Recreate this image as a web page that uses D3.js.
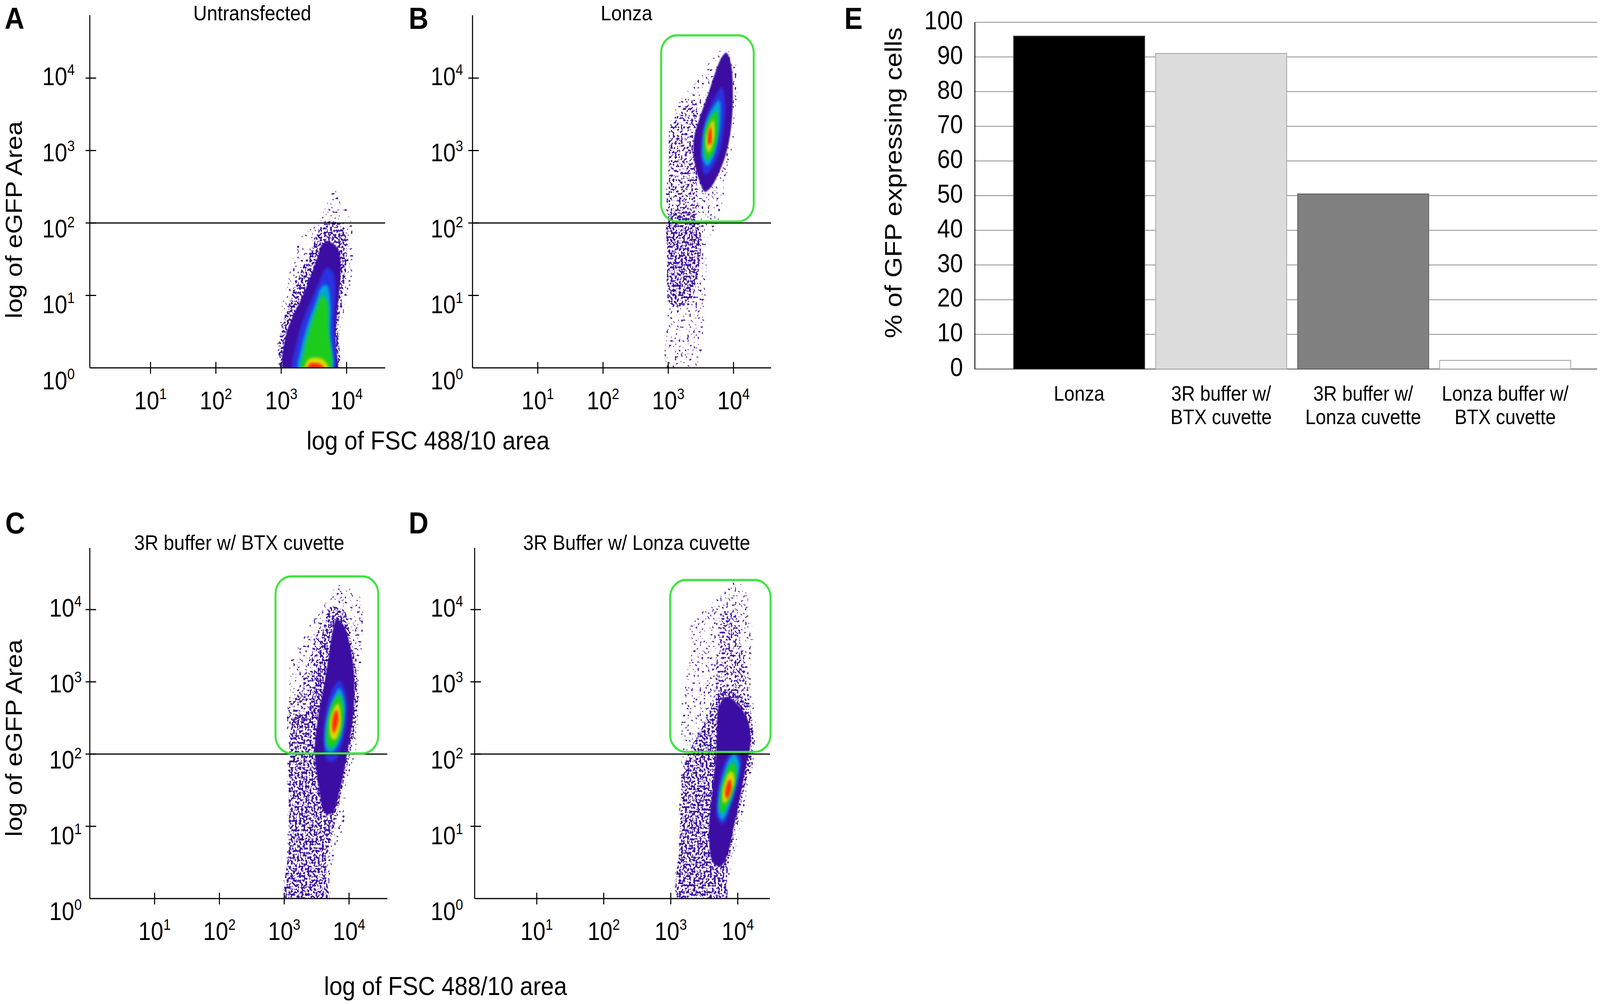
<!DOCTYPE html>
<html><head><meta charset="utf-8">
<script src="https://cdn.jsdelivr.net/npm/d3@7"></script>
<style>
html,body{margin:0;padding:0;width:100%;height:100%;overflow:hidden;background:#fff}
svg{display:block;width:100vw;height:100vh}
text{font-family:Arial,"Liberation Sans",Helvetica,sans-serif;fill:#000}
</style></head>
<body>
<script>
// ---------------- DATA ----------------
const panelLetters = ["A","B","C","D"];
const panelTitles = ["Untransfected","Lonza","3R buffer w/ BTX cuvette","3R Buffer w/ Lonza cuvette"];
const xTickExps = [1,2,3,4];
const yTickExps = [0,1,2,3,4];
const thresholdExp = 2;
const xAxisTitle = "log of FSC 488/10 area";
const yAxisTitle = "log of eGFP Area";
// gates: [log x min, log x max, log y min, log y max]
const gates = [null,[2.89,4.31,2.02,4.59],[2.865,4.45,2.01,4.46],[2.99,4.49,2.03,4.41]];

// density contours: [log10 FSC, log10 eGFP]
const cloudsA = [
 {level:"sparse", pts:[[3.01,-0.05],[3.01,0.82],[3.10,1.18],[3.19,1.54],[3.31,1.81],[3.56,2.02],[3.74,2.35],[3.78,2.47],[3.94,2.31],[4.04,2.11],[4.10,1.81],[4.06,1.14],[3.92,0.62],[3.85,0.19],[3.85,-0.05]]},
 {level:"medium", pts:[[3.02,-0.05],[3.02,0.64],[3.13,0.91],[3.22,1.18],[3.36,1.45],[3.49,1.70],[3.58,1.90],[3.72,2.02],[3.88,1.99],[3.99,1.81],[3.99,1.36],[3.92,0.91],[3.87,0.55],[3.85,-0.05]]},
 {level:"dense", pts:[[3.05,-0.05],[3.06,0.40],[3.17,0.70],[3.32,0.98],[3.45,1.27],[3.56,1.54],[3.62,1.70],[3.72,1.74],[3.86,1.66],[3.91,1.45],[3.89,1.09],[3.85,0.73],[3.83,0.37],[3.83,-0.05]]},
 {level:"blue", pts:[[3.19,-0.05],[3.24,0.37],[3.36,0.73],[3.49,1.00],[3.60,1.23],[3.69,1.38],[3.78,1.34],[3.83,1.09],[3.81,0.64],[3.79,-0.05]]},
 {level:"cyan", pts:[[3.27,-0.05],[3.31,0.28],[3.42,0.64],[3.53,0.91],[3.62,1.12],[3.70,1.14],[3.75,0.91],[3.75,0.46],[3.77,-0.05]]},
 {level:"green", pts:[[3.31,-0.05],[3.35,0.23],[3.44,0.55],[3.54,0.82],[3.63,1.00],[3.70,0.91],[3.72,0.55],[3.74,-0.05]]},
 {level:"yellow", pts:[[3.36,-0.05],[3.40,0.10],[3.49,0.14],[3.63,0.12],[3.70,0.05],[3.72,-0.05]]},
 {level:"red", pts:[[3.40,-0.05],[3.44,0.06],[3.56,0.06],[3.63,0.03],[3.67,-0.05]]}
];
const cloudsB = [
 {level:"sparse", pts:[[3.82,4.41],[3.96,4.39],[4.05,4.11],[4.05,3.66],[4.00,3.15],[3.92,2.79],[3.82,2.25],[3.74,1.95],[3.62,1.77],[3.58,1.21],[3.56,0.61],[3.49,0.16],[3.35,-0.05],[2.99,-0.05],[2.99,0.76],[2.98,1.65],[2.99,2.25],[3.01,3.00],[3.03,3.39],[3.17,3.66],[3.35,3.90],[3.53,4.08],[3.67,4.29]]},
 {level:"light", pts:[[3.03,3.30],[3.20,3.55],[3.40,3.70],[3.47,3.20],[3.44,2.55],[3.42,2.10],[3.01,2.10],[3.01,2.85]]},
 {level:"medium", pts:[[3.01,2.10],[3.35,2.12],[3.47,2.00],[3.50,1.80],[3.47,1.36],[3.35,0.95],[3.17,0.85],[3.01,0.91],[2.99,1.51]]},
 {level:"dense", pts:[[3.89,4.35],[3.96,4.20],[3.99,3.75],[3.96,3.30],[3.89,2.97],[3.78,2.70],[3.65,2.49],[3.56,2.43],[3.49,2.55],[3.40,2.85],[3.39,3.15],[3.48,3.45],[3.60,3.75],[3.71,4.05],[3.82,4.29]]},
 {level:"blue", pts:[[3.82,3.87],[3.87,3.66],[3.85,3.30],[3.78,2.97],[3.65,2.73],[3.56,2.67],[3.51,2.85],[3.51,3.15],[3.58,3.45],[3.69,3.69]]},
 {level:"cyan", pts:[[3.78,3.69],[3.80,3.45],[3.76,3.15],[3.69,2.91],[3.60,2.79],[3.53,2.88],[3.53,3.15],[3.58,3.39],[3.67,3.57]]},
 {level:"green", pts:[[3.74,3.54],[3.76,3.33],[3.73,3.09],[3.65,2.91],[3.58,2.88],[3.55,3.03],[3.56,3.27],[3.64,3.45]]},
 {level:"yellow", pts:[[3.69,3.42],[3.71,3.24],[3.67,3.06],[3.62,2.97],[3.58,3.06],[3.60,3.27]]},
 {level:"red", pts:[[3.65,3.33],[3.67,3.21],[3.65,3.09],[3.61,3.09],[3.61,3.21],[3.63,3.30]]}
];
const cloudsC = [
 {level:"sparse", pts:[[3.85,4.34],[4.03,4.28],[4.17,4.17],[4.21,3.58],[4.17,3.08],[4.14,2.50],[4.08,1.91],[3.96,1.62],[3.92,1.03],[3.81,0.74],[3.70,0.30],[3.68,-0.05],[3.04,-0.05],[3.05,0.74],[3.05,1.32],[3.05,1.91],[3.04,2.50],[3.07,2.79],[3.11,3.32],[3.27,3.55],[3.38,3.76],[3.59,4.02],[3.74,4.25]]},
 {level:"light", pts:[[3.08,2.70],[3.25,2.95],[3.40,3.35],[3.55,3.75],[3.50,2.60],[3.35,2.40],[3.10,2.40]]},
 {level:"medium", pts:[[3.70,4.02],[3.92,3.99],[4.01,3.67],[4.10,3.23],[4.14,2.79],[4.06,2.20],[3.99,1.91],[3.88,1.47],[3.78,1.03],[3.67,0.59],[3.65,0.30],[3.67,-0.05],[3.05,-0.05],[3.07,0.74],[3.07,1.62],[3.09,2.20],[3.15,2.50],[3.35,2.60],[3.50,3.10],[3.59,3.67]]},
 {level:"dense", pts:[[3.81,3.87],[3.92,3.78],[4.01,3.52],[4.08,3.08],[4.06,2.50],[3.99,2.11],[3.92,1.76],[3.85,1.47],[3.74,1.18],[3.63,1.18],[3.52,1.62],[3.47,2.06],[3.52,2.50],[3.61,2.93],[3.69,3.37],[3.74,3.67]]},
 {level:"blue", pts:[[3.85,3.02],[3.96,2.79],[3.96,2.44],[3.88,2.11],[3.78,1.91],[3.67,1.91],[3.61,2.14],[3.63,2.50],[3.72,2.85]]},
 {level:"cyan", pts:[[3.85,2.91],[3.93,2.73],[3.92,2.44],[3.85,2.17],[3.74,2.03],[3.65,2.06],[3.63,2.32],[3.69,2.61],[3.78,2.82]]},
 {level:"green", pts:[[3.85,2.82],[3.91,2.67],[3.90,2.41],[3.83,2.20],[3.74,2.09],[3.67,2.12],[3.66,2.35],[3.70,2.58],[3.78,2.76]]},
 {level:"yellow", pts:[[3.83,2.70],[3.87,2.55],[3.85,2.32],[3.78,2.20],[3.72,2.23],[3.70,2.41],[3.74,2.58]]},
 {level:"red", pts:[[3.81,2.61],[3.84,2.50],[3.81,2.38],[3.77,2.29],[3.74,2.35],[3.75,2.50],[3.78,2.58]]}
];
const cloudsD = [
 {level:"sparse", pts:[[3.93,4.37],[4.12,4.34],[4.16,3.96],[4.23,3.73],[4.19,3.08],[4.26,2.50],[4.28,2.20],[4.26,1.91],[4.16,1.62],[4.09,1.18],[3.98,0.74],[3.90,0.44],[3.84,0.15],[3.81,-0.05],[3.11,-0.05],[3.11,0.74],[3.13,1.32],[3.15,1.76],[3.16,2.20],[3.16,2.64],[3.20,2.96],[3.29,3.37],[3.30,3.78],[3.50,3.99],[3.77,4.22]]},
 {level:"light", pts:[[3.78,3.96],[3.98,3.96],[4.05,3.52],[4.12,3.08],[4.16,2.67],[3.95,2.75],[3.72,2.67],[3.67,3.08],[3.72,3.52]]},
 {level:"medium", pts:[[3.72,2.85],[3.95,2.85],[4.16,2.67],[4.23,2.32],[4.21,1.91],[4.12,1.62],[4.02,1.18],[3.91,0.74],[3.84,0.30],[3.81,-0.05],[3.13,-0.05],[3.13,0.74],[3.15,1.32],[3.18,1.76],[3.29,2.06],[3.46,2.35],[3.60,2.64]]},
 {level:"dense", pts:[[3.72,2.67],[3.84,2.79],[4.02,2.67],[4.16,2.44],[4.19,2.14],[4.14,1.91],[4.05,1.47],[3.95,1.03],[3.84,0.59],[3.74,0.44],[3.63,0.50],[3.57,0.88],[3.60,1.32],[3.67,1.91],[3.69,2.32]]},
 {level:"blue", pts:[[3.91,2.03],[4.04,1.97],[4.02,1.67],[3.91,1.32],[3.79,1.03],[3.70,1.09],[3.69,1.38],[3.76,1.76]]},
 {level:"cyan", pts:[[3.95,2.00],[4.02,1.88],[3.98,1.62],[3.88,1.29],[3.77,1.09],[3.71,1.18],[3.72,1.44],[3.79,1.73],[3.88,1.94]]},
 {level:"green", pts:[[3.93,1.88],[3.98,1.79],[3.96,1.59],[3.86,1.32],[3.77,1.18],[3.73,1.26],[3.75,1.50],[3.81,1.70],[3.88,1.85]]},
 {level:"yellow", pts:[[3.91,1.76],[3.95,1.65],[3.91,1.50],[3.84,1.35],[3.79,1.32],[3.77,1.44],[3.81,1.62],[3.86,1.73]]},
 {level:"red", pts:[[3.89,1.65],[3.91,1.56],[3.88,1.44],[3.84,1.38],[3.81,1.44],[3.83,1.56],[3.86,1.63]]}
];

// bar chart (panel E)
const barCategories = [["Lonza"],["3R buffer w/","BTX cuvette"],["3R buffer w/","Lonza cuvette"],["Lonza buffer w/","BTX cuvette"]];
const barValues = [96, 91, 50.5, 2.5];
const barTicks = [0,10,20,30,40,50,60,70,80,90,100];
const barAxisTitle = "% of GFP expressing cells";

// ---------------- STYLE / LAYOUT ----------------
const W = 4561, H = 2571;
const levelColor = {sparse:"#4a1a9c", light:"#45169e", medium:"#41139f", dense:"#3a0ea2", blue:"#2a30e2",
  cyan:"#04a8d8", green:"#1ccc1c", yellow:"#e2d800", red:"#ff2a00"};
const levelFilter = {sparse:"url(#speckSparse)", light:"url(#speckLight)", medium:"url(#speckMed)", dense:"url(#soft1)",
  blue:"url(#soft)", cyan:"url(#soft)", green:"url(#soft)", yellow:"url(#soft)", red:"url(#soft)"};

const panelLayout = [
 {ox:256,  xlo:0.071, xhi:4.59,  xDec:186.3,  oy:942,  yhi:4.868, yDec:185.5, gap:43, tx:719,  ty:52,   lx:13,   ly:74},
 {ox:1347, xlo:0,     xhi:4.575, xDec:186,    oy:942,  yhi:4.868, yDec:185.5, gap:27, tx:1786, ty:52,   lx:1165, ly:74},
 {ox:256,  xlo:0,     xhi:4.59,  xDec:184.75, oy:2301, yhi:4.854, yDec:185,   gap:23, tx:682,  ty:1408, lx:15,   ly:1366},
 {ox:1353, xlo:0.073, xhi:4.48,  xDec:191,    oy:2301, yhi:4.854, yDec:185,   gap:33, tx:1815, ty:1408, lx:1165, ly:1366}
];
const panelClouds = [cloudsA, cloudsB, cloudsC, cloudsD];

// the window may be narrower than the figure: the drawing is fitted to the whole viewport
const svg = d3.select("body").append("svg").attr("viewBox",`0 0 ${W} ${H}`).attr("preserveAspectRatio","none");
svg.append("rect").attr("width",W).attr("height",H).attr("fill","#fff");
const defs = svg.append("defs");

function speckle(id, t, freq, seed){
  const f = defs.append("filter").attr("id",id).attr("x","-5%").attr("y","-5%").attr("width","110%").attr("height","110%");
  f.append("feTurbulence").attr("type","fractalNoise").attr("baseFrequency",freq).attr("numOctaves",1).attr("seed",seed).attr("result","noise");
  const ct = f.append("feComponentTransfer").attr("in","noise").attr("result","mask");
  ct.append("feFuncA").attr("type","linear").attr("slope",20).attr("intercept",-20*t);
  f.append("feComposite").attr("in","SourceGraphic").attr("in2","mask").attr("operator","in");
}
speckle("speckSparse", 0.63, 0.17, 4);
speckle("speckLight", 0.56, 0.17, 6);
speckle("speckMed", 0.50, 0.17, 9);
defs.append("filter").attr("id","soft").append("feGaussianBlur").attr("stdDeviation",3.5);
defs.append("filter").attr("id","soft1").append("feGaussianBlur").attr("stdDeviation",2);

const BLACK = "#000";
function supLabel(sel, exp){
  sel.append("tspan").text("10");
  sel.append("tspan").attr("font-size",38).attr("dy",-26).text(exp);
}

panelLayout.forEach((L, i) => {
  const x = d3.scaleLog().domain([10**L.xlo, 10**L.xhi]).range([L.ox, L.ox + (L.xhi-L.xlo)*L.xDec]);
  const y = d3.scaleLog().domain([1, 10**L.yhi]).range([L.oy, L.oy - L.yhi*L.yDec]);
  const xr = x.range()[1], yt = y.range()[1];
  const g = svg.append("g");

  const cid = "clip"+i;
  defs.append("clipPath").attr("id",cid).append("rect")
    .attr("x",L.ox+2).attr("y",yt).attr("width",xr-L.ox-2).attr("height",L.oy-yt-1);
  const cg = g.append("g").attr("clip-path",`url(#${cid})`);
  const line = d3.line().x(d=>x(10**d[0])).y(d=>y(10**d[1])).curve(d3.curveCatmullRomClosed.alpha(0.5));
  panelClouds[i].forEach(c => {
    cg.append("path").attr("d", line(c.pts)).attr("fill", levelColor[c.level]).attr("filter", levelFilter[c.level]);
  });

  // axes
  g.append("line").attr("x1",L.ox).attr("x2",L.ox).attr("y1",yt).attr("y2",L.oy).attr("stroke",BLACK).attr("stroke-width",3);
  g.append("line").attr("x1",L.ox).attr("x2",xr).attr("y1",L.oy).attr("y2",L.oy).attr("stroke",BLACK).attr("stroke-width",3);
  g.append("line").attr("x1",L.ox).attr("x2",xr).attr("y1",y(10**thresholdExp)).attr("y2",y(10**thresholdExp)).attr("stroke",BLACK).attr("stroke-width",3);

  yTickExps.filter(e=>e>0).forEach(e => {
    g.append("line").attr("x1",L.ox-12).attr("x2",L.ox+18).attr("y1",y(10**e)).attr("y2",y(10**e)).attr("stroke",BLACK).attr("stroke-width",3);
  });
  xTickExps.forEach(e => {
    g.append("line").attr("x1",x(10**e)).attr("x2",x(10**e)).attr("y1",L.oy-15).attr("y2",L.oy+15).attr("stroke",BLACK).attr("stroke-width",3);
  });
  yTickExps.forEach(e => {
    const t = g.append("text").attr("x",L.ox-L.gap).attr("y",y(10**e)+18+9.3*(4-e)).attr("text-anchor","end").attr("font-size",64);
    supLabel(t, e);
  });
  xTickExps.forEach(e => {
    const t = g.append("text").attr("x",x(10**e)).attr("y",L.oy+106).attr("text-anchor","middle").attr("font-size",64);
    supLabel(t, e);
  });

  // gate
  const gt = gates[i];
  if (gt) {
    g.append("rect").attr("x",x(10**gt[0])).attr("y",y(10**gt[3]))
      .attr("width",x(10**gt[1])-x(10**gt[0])).attr("height",y(10**gt[2])-y(10**gt[3]))
      .attr("rx",45).attr("ry",45).attr("fill","none").attr("stroke","#3ee43e").attr("stroke-width",5.5);
  }
  g.append("text").attr("x",L.tx).attr("y",L.ty).attr("text-anchor","middle").attr("font-size",54).text(panelTitles[i]);
  g.append("text").attr("x",L.lx).attr("y",L.ly).attr("font-size",78).attr("font-weight","bold").text(panelLetters[i]);
});

// shared axis titles
svg.append("text").attr("transform","translate(62,563) rotate(-90)").attr("text-anchor","middle").attr("font-size",66).text(yAxisTitle);
svg.append("text").attr("transform","translate(62,1890) rotate(-90)").attr("text-anchor","middle").attr("font-size",66).text(yAxisTitle);
svg.append("text").attr("x",1220).attr("y",1151).attr("text-anchor","middle").attr("font-size",67).text(xAxisTitle);
svg.append("text").attr("x",1270).attr("y",2548).attr("text-anchor","middle").attr("font-size",67).text(xAxisTitle);

// ---------------- PANEL E ----------------
const eLeft = 2779, eRight = 4553;
const yE = d3.scaleLinear().domain([0,100]).range([945,57]);
const xE = d3.scaleBand().domain(d3.range(barValues.length)).range([2874,4493]).paddingInner(0.077).paddingOuter(0.038);
const gE = svg.append("g");
barTicks.forEach(t => {
  gE.append("line").attr("x1",eLeft).attr("x2",eRight).attr("y1",yE(t)).attr("y2",yE(t))
    .attr("stroke", t===0 ? "#666" : "#8c8c8c").attr("stroke-width", t===0 ? 2.5 : 2);
  gE.append("text").attr("x",2745).attr("y",yE(t)+18).attr("text-anchor","end").attr("font-size",66).text(t);
});
const barFill = ["#000000","#dcdcdc","#808080","#ffffff"];
const barStroke = ["#333","#a0a0a0","#5a5a5a","#9a9a9a"];
barValues.forEach((v,i) => {
  gE.append("rect").attr("x",xE(i)).attr("y",yE(v)).attr("width",xE.bandwidth()).attr("height",yE(0)-yE(v))
    .attr("fill",barFill[i]).attr("stroke",barStroke[i]).attr("stroke-width",2);
  const t = gE.append("text").attr("text-anchor","middle").attr("font-size",53);
  barCategories[i].forEach((s,k) => {
    t.append("tspan").attr("x",xE(i)+xE.bandwidth()/2).attr("y",1026+k*60).text(s);
  });
});
gE.append("line").attr("x1",eLeft).attr("x2",eLeft).attr("y1",yE(100)).attr("y2",yE(0)).attr("stroke","#000").attr("stroke-width",2.5);
svg.append("text").attr("transform","translate(2570,468) rotate(-90)").attr("text-anchor","middle").attr("font-size",68).text(barAxisTitle);
svg.append("text").attr("x",2407).attr("y",74).attr("font-size",78).attr("font-weight","bold").text("E");
</script>
</body></html>
